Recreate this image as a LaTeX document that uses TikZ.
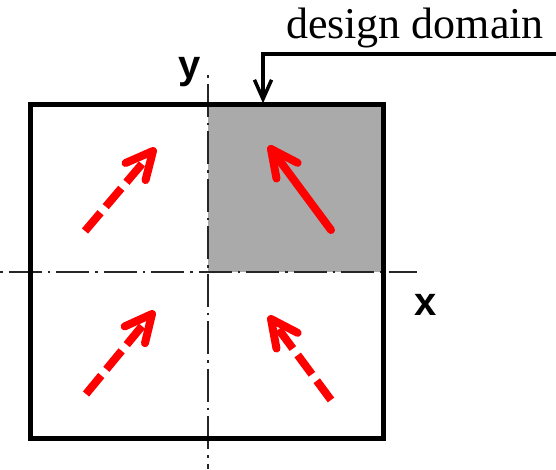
\documentclass[tikz,border=0pt]{standalone}
\usepackage{fontspec}
\setmainfont{Liberation Serif}
\setsansfont{Liberation Sans}
\usetikzlibrary{calc}
\definecolor{domaingray}{RGB}{170,170,170}

\begin{document}
\begin{tikzpicture}[x=1pt,y=-1pt,
  frame/.style={line width=5pt, line join=miter},
  axis/.style={line width=2.8pt, black!85, dash pattern=on 2.5pt off 6pt on 33pt off 6pt},
  shaft/.style={red, line width=8pt},
  dashedshaft/.style={shaft, dash pattern=on 24pt off 8pt},
  head/.style={red, line width=8pt, line cap=round, line join=round},
  leader/.style={line width=3.5pt},
  leaderhead/.style={line width=3.5pt, line join=miter},
  axislabel/.style={font=\sffamily\bfseries\fontsize{40}{40}\selectfont, inner sep=0pt, anchor=base},
  caption/.style={font=\fontsize{44}{44}\selectfont, inner sep=0pt, anchor=base},
]
\useasboundingbox (0,0) rectangle (556,469);

% plate corners and centre
\coordinate (nw) at (30,104);
\coordinate (se) at (383,438);
\coordinate (c) at (208,272);

% quarter that is optimised
\fill[domaingray] (c) rectangle (383,104);

% symmetry axes
\coordinate (xa) at (0,272);
\coordinate (xb) at (417,272);
\coordinate (ya) at (208,75);
\coordinate (yb) at (208,469);
\draw[axis] (xa) -- (xb);
\draw[axis] (ya) -- (yb);

% plate outline
\draw[frame] (nw) rectangle (se);

% axis labels
\node[axislabel] (ylab) at (190,78) {y};
\node[axislabel] (xlab) at (426,315) {x};

% label with leader line and open arrowhead
\node[caption] (dd) at (415,38) {design domain};
\coordinate (lead) at (556,54);
\coordinate (bend) at (263,54);
\coordinate (target) at (263,99);
\draw[leader] (lead) -- (bend) -- (target);
\draw[leaderhead] ($(target)!21pt!24:(bend)$) -- (target) -- ($(target)!21pt!-24:(bend)$);

% load arrows: tail and tip of each
\coordinate (t1) at (85,231);  \coordinate (h1) at (153,151);
\coordinate (t2) at (331,230); \coordinate (h2) at (271,149);
\coordinate (t3) at (86,394);  \coordinate (h3) at (152,314);
\coordinate (t4) at (331,400); \coordinate (h4) at (271,319);

\draw[dashedshaft] (t1) -- (h1);
\draw[head] (t2) -- (h2);
\draw[dashedshaft] (t3) -- (h3);
\draw[dashedshaft] (t4) -- (h4);

\foreach \h/\t in {h1/t1, h2/t2, h3/t3, h4/t4}
  \draw[head] ($(\h)!30pt!26:(\t)$) -- (\h) -- ($(\h)!30pt!-26:(\t)$);
\end{tikzpicture}
\end{document}
